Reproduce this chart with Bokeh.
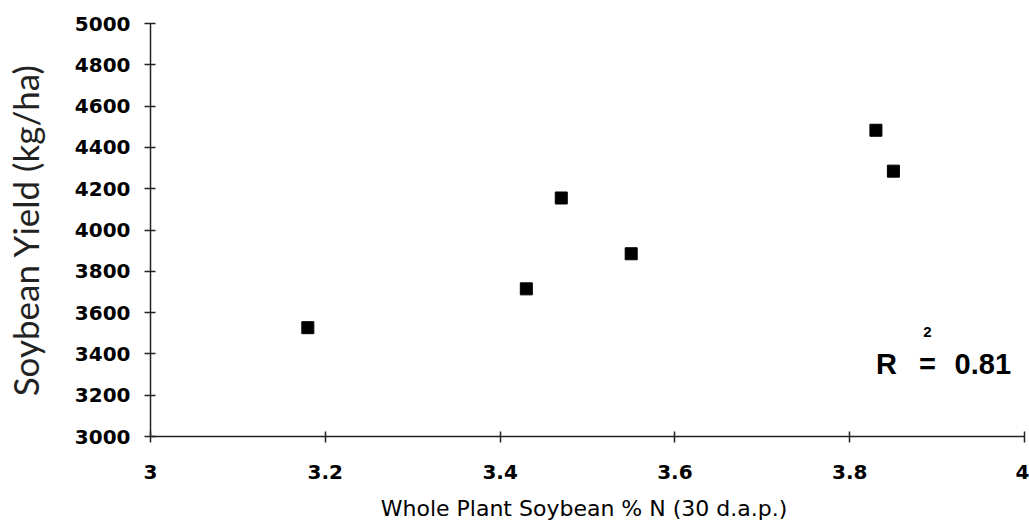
from bokeh.plotting import figure
from bokeh.models import Range1d, Label, FixedTicker, ColumnDataSource
from bokeh.embed import file_html
from bokeh.resources import INLINE

# Data
pct_n = [3.18, 3.43, 3.47, 3.55, 3.83, 3.85]
yield_kg = [3527, 3715, 4155, 3885, 4483, 4285]
x_ticks = [3, 3.2, 3.4, 3.6, 3.8, 4]
y_ticks = [3000, 3200, 3400, 3600, 3800, 4000, 4200, 4400, 4600, 4800, 5000]
r2_text = "0.81"

src = ColumnDataSource(dict(x=pct_n, y=yield_kg))

p = figure(width=1029, height=523, output_backend="svg", toolbar_location=None,
           x_range=Range1d(3, 4), y_range=Range1d(3000, 5000),
           min_border_left=148, min_border_right=5, min_border_top=23, min_border_bottom=86)
p.outline_line_color = None
p.grid.visible = False
p.background_fill_color = "white"
p.border_fill_color = "white"

p.scatter("x", "y", source=src, marker="square", size=12, color="black")

p.xaxis.ticker = FixedTicker(ticks=x_ticks)
p.yaxis.ticker = FixedTicker(ticks=y_ticks)
p.xaxis.major_label_overrides = {3: "3", 4: "4"}
for ax in (p.xaxis, p.yaxis):
    ax.minor_tick_line_color = None
    ax.axis_line_color = "#222222"
    ax.axis_line_width = 1.5
    ax.major_tick_line_color = "#222222"
    ax.major_tick_line_width = 1.5
    ax.major_tick_in = 5
    ax.major_tick_out = 6
    ax.major_label_text_font = "DejaVu Sans"
    ax.major_label_text_font_style = "bold"
    ax.major_label_text_font_size = "20px"
    ax.major_label_text_color = "black"

p.xaxis.major_label_standoff = 22
p.yaxis.major_label_standoff = 14

p.xaxis.axis_label = "Whole Plant Soybean  % N (30 d.a.p.)"
p.xaxis.axis_label_text_font = "DejaVu Sans"
p.xaxis.axis_label_text_font_style = "normal"
p.xaxis.axis_label_text_font_size = "22px"
p.xaxis.axis_label_text_color = "black"
p.xaxis.axis_label_standoff = 14

p.yaxis.axis_label = "Soybean Yield (kg/ha)"
p.yaxis.axis_label_text_font = "Lato"
p.yaxis.axis_label_text_font_style = "normal"
p.yaxis.axis_label_text_font_size = "35px"
p.yaxis.axis_label_text_color = "#222222"
p.yaxis.axis_label_standoff = 26

common = dict(text_font="Liberation Sans", text_font_style="bold", text_color="black",
              text_baseline="alphabetic")
p.add_layout(Label(x=3.83, y=3350, text="R", text_font_size="29px", text_align="left", **common))
p.add_layout(Label(x=3.889, y=3350, text="=", text_font_size="29px", text_align="center", **common))
p.add_layout(Label(x=3.920, y=3350, text=r2_text, text_font_size="29px", text_align="left", **common))
p.add_layout(Label(x=3.889, y=3505, text="2", text_font_size="15px", text_align="center", **common))

open("out.html", "w").write(file_html(p, INLINE))
